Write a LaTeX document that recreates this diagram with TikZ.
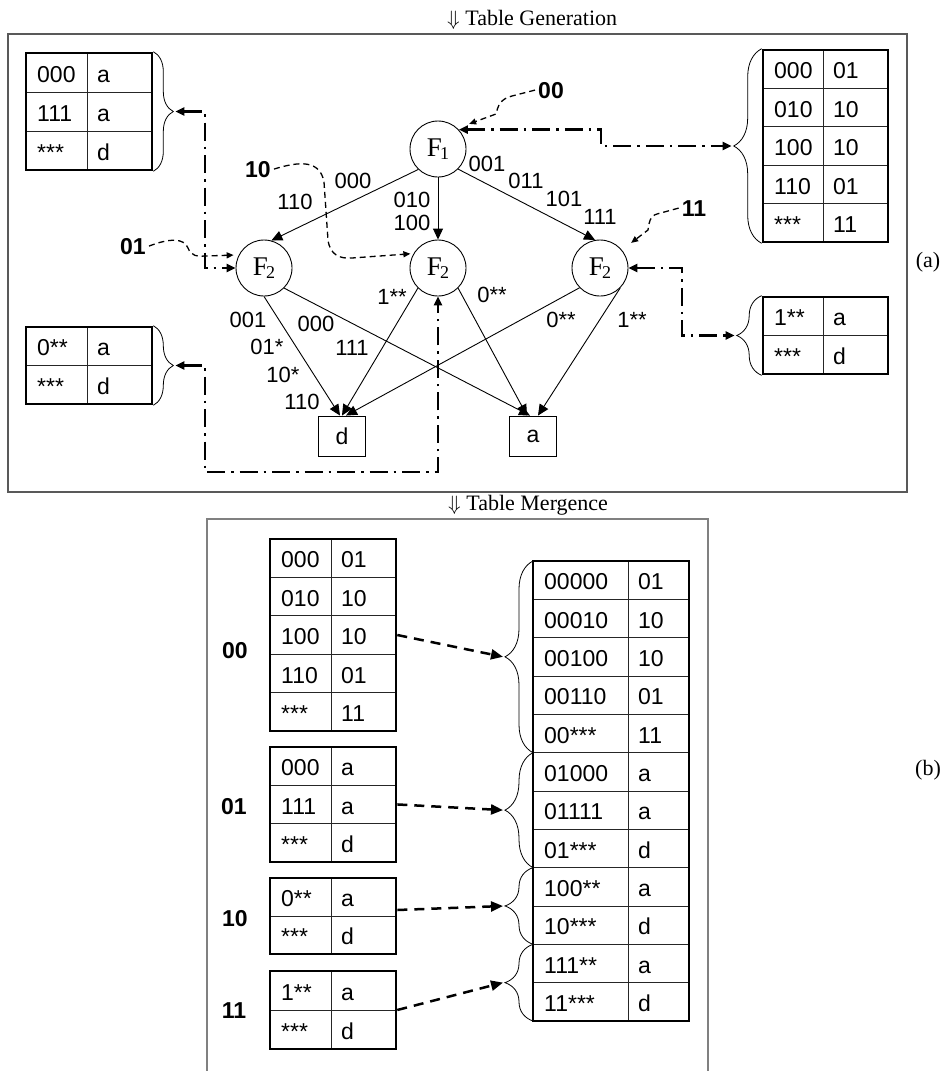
\documentclass[tikz,border=0pt]{standalone}
\usepackage{fontspec}
\setmainfont{Liberation Serif}
\newfontfamily\arialf{Liberation Sans}
\usetikzlibrary{arrows.meta,decorations.pathreplacing,fit}

\tikzset{
  cell/.style={anchor=base west, inner sep=0pt, font=\arialf\fontsize{23}{23}\selectfont},
  tabline/.style={line width=0.9pt, black!85},
  tabframe/.style={draw, line width=2.6pt, inner sep=0pt},
  elab/.style={anchor=base, inner sep=0pt, font=\arialf\fontsize{22}{22}\selectfont},
  blab/.style={anchor=base, inner sep=0pt, font=\arialf\bfseries\fontsize{23}{23}\selectfont},
  fnode/.style={circle, draw, line width=0.9pt, minimum size=56pt, inner sep=0pt},
  leaf/.style={rectangle, draw, line width=0.9pt, minimum width=47pt, minimum height=40pt, inner sep=0pt, font=\arialf\fontsize{23}{23}\selectfont},
  ed/.style={line width=0.9pt, -{Triangle[length=11pt,width=10pt]}},
  brc/.style={decorate, decoration={brace, amplitude=#1}, line width=0.8pt},
  dd/.style={line width=2.4pt, dash pattern=on 18pt off 6pt on 2.5pt off 6pt, {Triangle[length=9pt,width=8pt]}-{Triangle[length=9pt,width=8pt]}},
  dl/.style={line width=1.3pt, dash pattern=on 6pt off 4pt, -{Triangle[length=7pt,width=6pt]}},
  db/.style={line width=2.5pt, dash pattern=on 10pt off 7pt, -{Triangle[length=12pt,width=10pt]}},
  capt/.style={anchor=base west, inner sep=0pt, font=\fontsize{22}{22}\selectfont},
  frame/.style={line width=1.2pt, black!65}
}

\newcommand{\drawtable}[8]{%
  \foreach \j in {2,...,#7} {\draw[tabline] ({#2},{#3+(\j-1)*#6}) -- ({#5},{#3+(\j-1)*#6});}
  \draw[tabline] ({#4},{#3}) -- ({#4},{#3+#7*#6});
  \foreach \ca/\cb [count=\i] in {#8} {
    \node[cell] (#1-\i-a) at ({#2+11},{#3+(\i-1)*#6+0.75*#6}) {\ca};
    \node[cell] (#1-\i-b) at ({#4+10},{#3+(\i-1)*#6+0.75*#6}) {\cb};
  }
  \node[tabframe, fit={({#2},{#3}) ({#5},{#3+#7*#6})}] (#1) {};
}

\newcommand{\Fl}[1]{{\fontsize{27}{27}\selectfont F\kern-2pt\raisebox{-3pt}{\fontsize{18}{18}\selectfont #1}}}

\begin{document}
\begin{tikzpicture}[x=1pt,y=-1pt]
\useasboundingbox (0,0) rectangle (943,1071);

% captions and frames
\node[capt] (capA) at (447,25) {$\Downarrow$ Table Generation};
\node[capt] (capB) at (448,510) {$\Downarrow$ Table Mergence};
\node[font=\fontsize{22}{22}\selectfont] (labA) at (928,262) {(a)};
\node[font=\fontsize{22}{22}\selectfont] (labB) at (928,770) {(b)};
\draw[frame] (8,34) rectangle (907,492);
\draw[frame, black!50, line width=1.4pt] (207,1072) -- (207,519) -- (708,519) -- (708,1072);

% tables of (a)
\drawtable{tl}{26}{53}{87}{152}{39}{3}{000/a,111/a,***/d}
\drawtable{tr}{763}{50}{823}{888}{38.4}{5}{000/01,010/10,100/10,110/01,***/11}
\drawtable{bl}{26}{327}{87}{152}{38.5}{2}{0**/a,***/d}
\drawtable{sr}{763}{297}{823}{888}{38.5}{2}{1**/a,***/d}

\draw[brc=20pt] (tl.north east) -- (tl.south east);
\draw[brc=20pt] (bl.north east) -- (bl.south east);
\draw[brc=28pt] (tr.south west) -- (tr.north west);
\draw[brc=25pt] (sr.south west) -- (sr.north west);
\coordinate (tlb) at ([xshift=22pt]tl.east);
\coordinate (blb) at ([xshift=22pt]bl.east);
\coordinate (trb) at ([xshift=-30pt]tr.west);
\coordinate (srb) at ([xshift=-27pt]sr.west);

% graph nodes
\node[fnode] (F1) at (438,149) {\Fl{1}};
\node[fnode] (F2a) at (264,268) {\Fl{2}};
\node[fnode] (F2b) at (438,268) {\Fl{2}};
\node[fnode] (F2c) at (600,268) {\Fl{2}};
\node[leaf] (d) at (342,436) {d};
\node[leaf] (a) at (533,436) {a};

% edges
\draw[ed] (F1.226) -- (F2a.75);
\draw[ed] (F1.south) -- (F2b.north);
\draw[ed] (F1.-45) -- (F2c.100);
\draw[ed] (F2a.south) -- ([xshift=-2pt]d.north);
\draw[ed] (F2a.-45) -- ([xshift=-3pt]a.north);
\draw[ed] (F2b.-135) -- (d.north);
\draw[ed] (F2b.-45) -- ([xshift=-6pt]a.north);
\draw[ed] (F2c.-136) -- ([xshift=4pt]d.north);
\draw[ed] (F2c.-45) -- ([xshift=5pt]a.north);

% edge labels
\node[elab] (l1) at (353,188.5) {000};
\node[elab] (l2) at (295,209.5) {110};
\node[elab] (l3) at (412,207.5) {010};
\node[elab] (l4) at (412,230.5) {100};
\node[elab] (l5) at (487,171.5) {001};
\node[elab] (l6) at (526,188.5) {011};
\node[elab] (l7) at (564,206.5) {101};
\node[elab] (l8) at (600,224.5) {111};
\node[elab] (l9) at (248,327.5) {001};
\node[elab] (l10) at (267,354.5) {01*};
\node[elab] (l11) at (283,382.5) {10*};
\node[elab] (l12) at (302,409.5) {110};
\node[elab] (l13) at (316,331.5) {000};
\node[elab] (l14) at (352,355.5) {111};
\node[elab] (l15) at (392,304.5) {1**};
\node[elab] (l16) at (492,302.5) {0**};
\node[elab] (l17) at (561,327.5) {0**};
\node[elab] (l18) at (632,327.5) {1**};

% bold input labels
\node[blab] (n00) at (551,98) {00};
\node[blab] (n11) at (694,216) {11};
\node[blab] (n10) at (258,177) {10};
\node[blab] (n01) at (133,254) {01};

% dashed input arrows
\draw[dl] ([xshift=-3pt]n00.west) -- (512,96) .. controls (500,99) and (498,106) .. (496,114) -- ([shift={(11,-5)}]F1.45);
\draw[dl] ([xshift=-3pt]n11.west) -- (657,214) .. controls (650,216) and (649,222) .. (648,230) -- ([shift={(11,-5)}]F2c.45);
\draw[dl] ([xshift=3pt]n10.east) .. controls (300,161) and (320,160) .. (324,182) -- (328,240) .. controls (330,255) and (340,259) .. (352,258) -- ([xshift=-3pt]F2b.150);
\draw[dl] ([xshift=3pt]n01.east) .. controls (170,238) and (184,238) .. (188,248) .. controls (191,256) and (198,257) .. (205,256) -- ([xshift=-5pt]F2a.153);

% dash-dot table links
\coordinate (p1) at (205,0);
\coordinate (p2) at (601,0);
\coordinate (p3) at (682,0);
\coordinate (p4) at (0,472);
\draw[dd] (tlb) -- (tlb -| p1) -- (p1 |- F2a) -- (F2a.west);
\draw[dd] (F1.43) -- (F1.43 -| p2) -- (p2 |- trb) -- (trb);
\draw[dd] (F2c.east) -- (F2c.east -| p3) -- (p3 |- srb) -- (srb);
\draw[dd] (blb) -- (blb -| p1) -- (p1 |- p4) -- (p4 -| F2b) -- (F2b.south);

% (b) tables
\drawtable{t00}{270}{539}{331}{396}{38.4}{5}{000/01,010/10,100/10,110/01,***/11}
\drawtable{t01}{270}{747}{331}{396}{38.3}{3}{000/a,111/a,***/d}
\drawtable{t10}{270}{878}{331}{396}{38}{2}{0**/a,***/d}
\drawtable{t11}{270}{971}{331}{396}{39}{2}{1**/a,***/d}
\drawtable{mt}{533}{561}{628}{689}{38.33}{12}{00000/01,00010/10,00100/10,00110/01,00***/11,01000/a,01111/a,01***/d,100**/a,10***/d,111**/a,11***/d}

\node[blab] (b00) at (235,658) {00};
\node[blab] (b01) at (234,814) {01};
\node[blab] (b10) at (235,926) {10};
\node[blab] (b11) at (234,1018) {11};

\coordinate (g1a) at (533,561);
\coordinate (g1b) at (533,752.65);
\coordinate (g2b) at (533,867.6);
\coordinate (g3b) at (533,944.3);
\coordinate (g4b) at (533,1021);
\draw[brc=28pt] (g1b) -- (g1a);
\draw[brc=28pt] (g2b) -- (g1b);
\draw[brc=28pt] (g3b) -- (g2b);
\draw[brc=28pt] (g4b) -- (g3b);
\coordinate (m1) at (503,656.8);
\coordinate (m2) at (503,810.1);
\coordinate (m3) at (503,906);
\coordinate (m4) at (503,982.6);

\draw[db] (t00.east) -- (m1);
\draw[db] (t01.east) -- (m2);
\draw[db] ([yshift=6pt]t10.east) -- (m3);
\draw[db] (t11.east) -- (m4);
\end{tikzpicture}
\end{document}
